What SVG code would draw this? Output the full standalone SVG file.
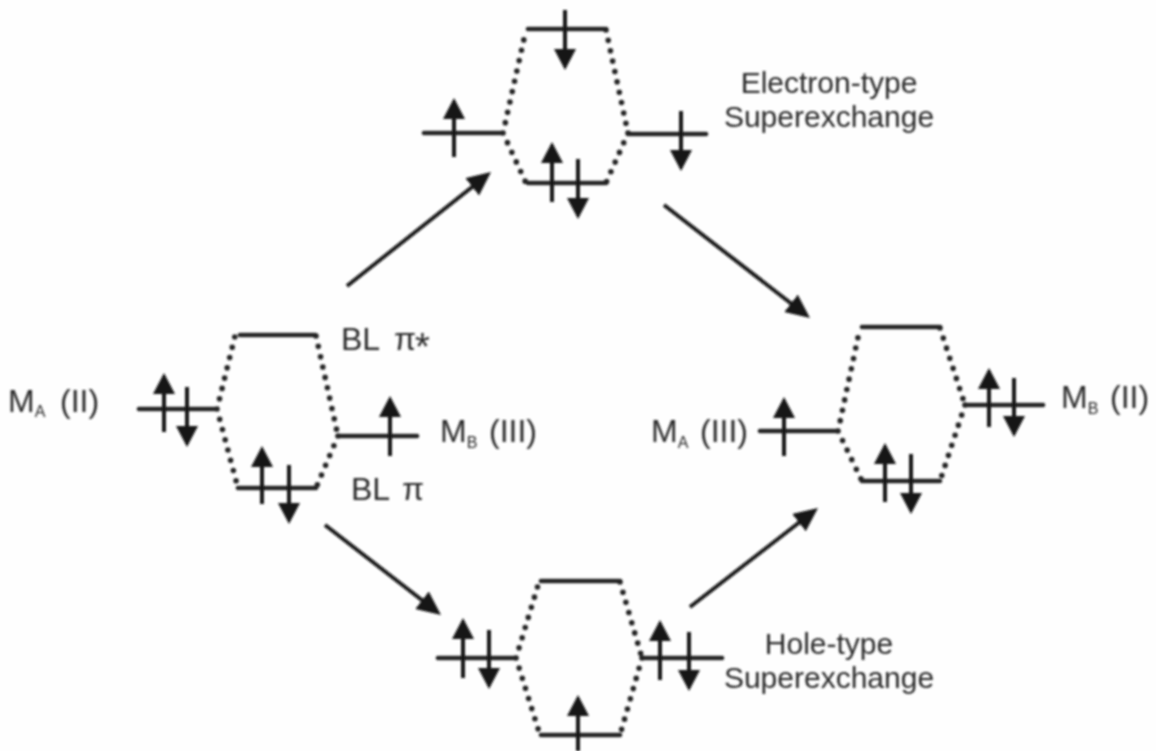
<svg xmlns="http://www.w3.org/2000/svg" width="1156" height="751" viewBox="0 0 1156 751">
<style>
.lv{stroke:#222;stroke-width:4.6;fill:none;stroke-linecap:round}
.dot{stroke:#222;stroke-width:5.6;fill:none;stroke-linecap:round;stroke-dasharray:0 10.6}
.spin{stroke:#141414;stroke-width:4;fill:none;marker-end:url(#h)}
.conn{stroke:#141414;stroke-width:3.8;fill:none;marker-end:url(#h2)}
text{font-family:"Liberation Sans",Arial,sans-serif;font-size:30px;fill:#2a2a2a}
.t{font-size:32px}
.sub{font-size:16px}
.ast{font-size:38px}
.m{text-anchor:middle}
</style>
<defs>
<filter id="soft" x="-5%" y="-5%" width="110%" height="110%"><feGaussianBlur stdDeviation="0.9"/></filter>
<marker id="h" markerUnits="userSpaceOnUse" markerWidth="24" markerHeight="24" refX="11" refY="11" orient="auto"><path d="M0 0L21 11L0 22Z" fill="#141414"/></marker>
<marker id="h2" markerUnits="userSpaceOnUse" markerWidth="28" markerHeight="26" refX="12" refY="11" orient="auto"><path d="M0 0L24 11L0 22Z" fill="#141414"/></marker>
</defs>
<rect width="1156" height="751" fill="#fefefe"/>
<g filter="url(#soft)">
<g id="connectors">
<path class="conn" d="M347 286L481.6 179.4"/>
<path class="conn" d="M664 205L800.5 310.7"/>
<path class="conn" d="M325 525L431.5 607.6"/>
<path class="conn" d="M690 607L808.5 515.3"/>
</g>
<g id="left-complex">
<path class="lv" d="M240 335H315M238 488H316M139 409H215M339 436H417"/>
<path class="dot" d="M217 409L235 336M217 409L238 488M316 336L338 436M338 436L316 488"/>
<path class="spin" d="M164 432V383"/><path class="spin" d="M187 387V437"/><path class="spin" d="M390 456V406"/><path class="spin" d="M262 504V456"/><path class="spin" d="M289 465V514"/>
</g>
<g id="top-complex">
<path class="lv" d="M528 29H606M528 183H606M424 133H502M628 134H706"/>
<path class="dot" d="M503 133L526 30M503 133L526 183M606 30L628 133M628 133L606 183"/>
<path class="spin" d="M565 10V60"/><path class="spin" d="M454 157V108"/><path class="spin" d="M681 111V161"/><path class="spin" d="M552 202V152"/><path class="spin" d="M578 159V209"/>
</g>
<g id="right-complex">
<path class="lv" d="M862 327H940M862 481H940M760 431H838M965 405H1043"/>
<path class="dot" d="M838 431L860 328M838 431L862 481M940 328L965 405M965 405L940 481"/>
<path class="spin" d="M784 456V407"/><path class="spin" d="M989 427V378"/><path class="spin" d="M1014 378V427"/><path class="spin" d="M885 502V453"/><path class="spin" d="M911 454V504"/>
</g>
<g id="bottom-complex">
<path class="lv" d="M541 581H620M541 735H620M438 658H516M642 658H722"/>
<path class="dot" d="M516 658L539 582M516 658L540 735M620 582L642 658M642 658L620 735"/>
<path class="spin" d="M463 678V628"/><path class="spin" d="M489 630V679"/><path class="spin" d="M660 680V630"/><path class="spin" d="M689 632V681"/><path class="spin" d="M578 751V705"/>
</g>
<g id="labels">
<text class="t" x="8" y="412">M<tspan class="sub" dy="5">A</tspan><tspan x="60" dy="-5">(II)</tspan></text>
<text class="t" x="440" y="442">M<tspan class="sub" dy="6">B</tspan><tspan x="489" dy="-6">(III)</tspan></text>
<text class="t" x="651" y="442">M<tspan class="sub" dy="6">A</tspan><tspan x="700" dy="-6">(III)</tspan></text>
<text class="t" x="1061" y="408">M<tspan class="sub" dy="6">B</tspan><tspan x="1110" dy="-6">(II)</tspan></text>
<text class="t" x="341" y="350">BL<tspan x="394">π</tspan><tspan class="ast" x="415" dy="10">*</tspan></text>
<text class="t" x="351" y="500">BL<tspan x="402">π</tspan></text>
<text class="m" x="829" y="93">Electron-type</text>
<text class="m" x="829" y="127">Superexchange</text>
<text class="m" x="829" y="654">Hole-type</text>
<text class="m" x="829" y="688">Superexchange</text>
</g>
</g>
</svg>
